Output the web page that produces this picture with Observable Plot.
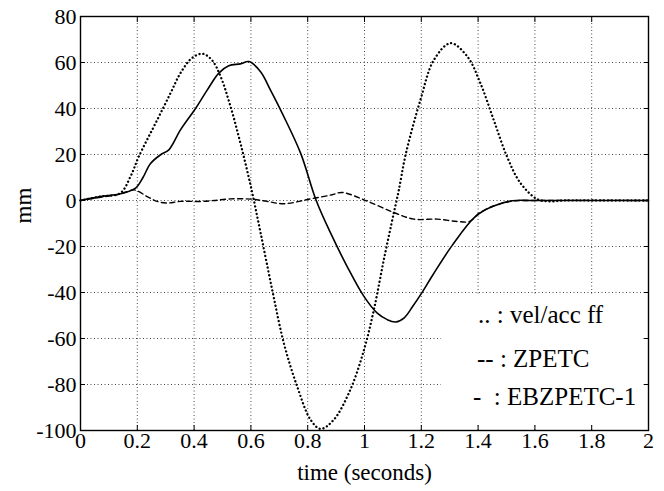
<!DOCTYPE html>
<html><head><meta charset="utf-8">
<script src="https://cdn.jsdelivr.net/npm/d3@7"></script>
<script src="https://cdn.jsdelivr.net/npm/@observablehq/plot@0.6"></script>
<style>
body{margin:0;background:#fff;}
#wrap{position:relative;width:664px;height:491px;font-family:"Liberation Serif","DejaVu Serif",serif;}
#wrap svg text{font-family:"Liberation Serif","DejaVu Serif",serif;}
#legend{position:absolute;left:441px;top:294px;width:201px;height:129px;background:#fff;}
.lg{position:absolute;font-family:"Liberation Serif","DejaVu Serif",serif;font-size:25px;line-height:25px;white-space:pre;color:#000;}
</style></head><body>
<div id="wrap"><div id="chart"></div><div id="legend"></div></div>
<script>
const xTicks = [0, 0.2, 0.4, 0.6, 0.8, 1, 1.2, 1.4, 1.6, 1.8, 2];
const yTicks = [-100, -80, -60, -40, -20, 0, 20, 40, 60, 80];

const legendLabels = [".. : vel/acc ff", "-- : ZPETC", "-  : EBZPETC-1"];

// ".. : vel/acc ff" (dotted)
const velAccTime = [0, 0.07, 0.14, 0.176, 0.205, 0.27, 0.317, 0.352, 0.393, 0.43, 0.463, 0.493, 0.528, 0.563, 0.6, 0.634, 0.675, 0.716, 0.763, 0.81, 0.845, 0.892, 0.951, 0.998, 1.033, 1.068, 1.103, 1.12, 1.145, 1.197, 1.244, 1.303, 1.362, 1.408, 1.455, 1.502, 1.549, 1.608, 1.65, 1.7, 1.8, 2.0];
const velAccVal  = [0, 1.7, 3.2, 10.4, 19, 35, 46.7, 55.4, 62, 63.8, 61, 54, 41, 25, 6, -14, -38.8, -62, -80.9, -95.3, -99.3, -95.3, -82, -65, -47.5, -25.8, -5.5, 4, 20, 43.8, 61, 68.4, 62.6, 51, 35, 19, 7.6, 0.6, -0.4, 0, 0, 0];

// "-- : ZPETC" (dashed)
const zpetcTime = [0, 0.07, 0.14, 0.188, 0.235, 0.27, 0.305, 0.352, 0.423, 0.47, 0.528, 0.6, 0.657, 0.716, 0.81, 0.886, 0.921, 1.0, 1.103, 1.174, 1.256, 1.326, 1.37, 1.404, 1.45, 1.52, 1.6, 2.0];
const zpetcVal  = [0, 1.4, 2.8, 4.6, 1.7, -0.4, -1.1, -0.4, -0.4, 0, 0.7, 0.6, -0.4, -1.4, 0.7, 2.5, 3.5, 0.2, -5.2, -8.1, -8.1, -9.1, -9.1, -5.5, -2.6, -0.3, 0, 0];

// "-  : EBZPETC-1" (solid)
const ebzTime = [0, 0.07, 0.14, 0.194, 0.22, 0.246, 0.282, 0.311, 0.352, 0.405, 0.446, 0.487, 0.522, 0.563, 0.593, 0.634, 0.669, 0.71, 0.775, 0.83, 0.88, 0.939, 0.998, 1.045, 1.08, 1.11, 1.14, 1.17, 1.2, 1.24, 1.31, 1.39, 1.45, 1.52, 1.6, 2.0];
const ebzVal  = [0, 1.7, 2.9, 5.4, 10, 16, 19.9, 22, 30.7, 40, 48, 55.4, 58.6, 59.4, 60.4, 56, 48, 38, 20.6, 0, -14, -28.7, -41.7, -49, -51.8, -52.8, -51, -46, -40.5, -32.5, -19.3, -7, -2.6, -0.1, 0, 0];

const toRows = (ts, vs) => ts.map((t, i) => ({t, v: vs[i]}));
const velAcc = toRows(velAccTime, velAccVal);
const zpetc = toRows(zpetcTime, zpetcVal);
const ebz = toRows(ebzTime, ebzVal);

const fmt = d => String(d);
const serif = "'Liberation Serif', 'DejaVu Serif', serif";
const gridStyle = {stroke: "black", strokeOpacity: 0.8, strokeDasharray: "1,2.5", strokeWidth: 0.9};

const chart = Plot.plot({
  width: 664, height: 491,
  marginLeft: 80, marginRight: 16, marginTop: 16, marginBottom: 61,
  x: {domain: [0, 2]},
  y: {domain: [-100, 80]},
  style: {fontFamily: serif, fontSize: "22px", color: "black", background: "white"},
  marks: [
    Plot.gridX(xTicks, gridStyle),
    Plot.gridY(yTicks, gridStyle),
    Plot.line(velAcc, {x: "t", y: "v", curve: "catmull-rom", stroke: "black", strokeWidth: 2.3, strokeDasharray: "0.1,3.8", strokeLinecap: "round"}),
    Plot.line(zpetc, {x: "t", y: "v", curve: "catmull-rom", stroke: "black", strokeWidth: 1.4, strokeDasharray: "5,3.5"}),
    Plot.line(ebz, {x: "t", y: "v", curve: "catmull-rom", stroke: "black", strokeWidth: 1.6}),
    Plot.frame({stroke: "black", strokeWidth: 1.4}),
    Plot.axisX(xTicks, {anchor: "bottom", tickSize: 0, tickPadding: 2, tickFormat: fmt, fontSize: 22, fontFamily: serif, label: null}),
    Plot.axisX(xTicks, {anchor: "bottom", tickSize: -5, tickFormat: () => "", label: null}),
    Plot.axisX(xTicks, {anchor: "top", tickSize: -5, tickFormat: () => "", label: null}),
    Plot.axisY(yTicks, {anchor: "left", tickSize: 0, tickPadding: 4, tickFormat: fmt, fontSize: 22, fontFamily: serif, label: null}),
    Plot.axisY(yTicks, {anchor: "left", tickSize: -5, tickFormat: () => "", label: null}),
    Plot.axisY(yTicks, {anchor: "right", tickSize: -5, tickFormat: () => "", label: null}),
    Plot.text(["time (seconds)"], {frameAnchor: "bottom", dy: 49, fontSize: 23, fontFamily: serif, text: d => d}),
    Plot.text(["mm"], {frameAnchor: "left", dx: -57, rotate: -90, fontSize: 23, fontFamily: serif, text: d => d})
  ]
});
document.getElementById("chart").appendChild(chart);

const legendPos = [{left: 37, top: 8}, {left: 36, top: 52}, {left: 32, top: 90}];
const lg = document.getElementById("legend");
legendLabels.forEach((s, i) => {
  const el = document.createElement("div");
  el.className = "lg";
  el.style.left = legendPos[i].left + "px";
  el.style.top = legendPos[i].top + "px";
  el.textContent = s;
  lg.appendChild(el);
});
</script>
</body></html>
